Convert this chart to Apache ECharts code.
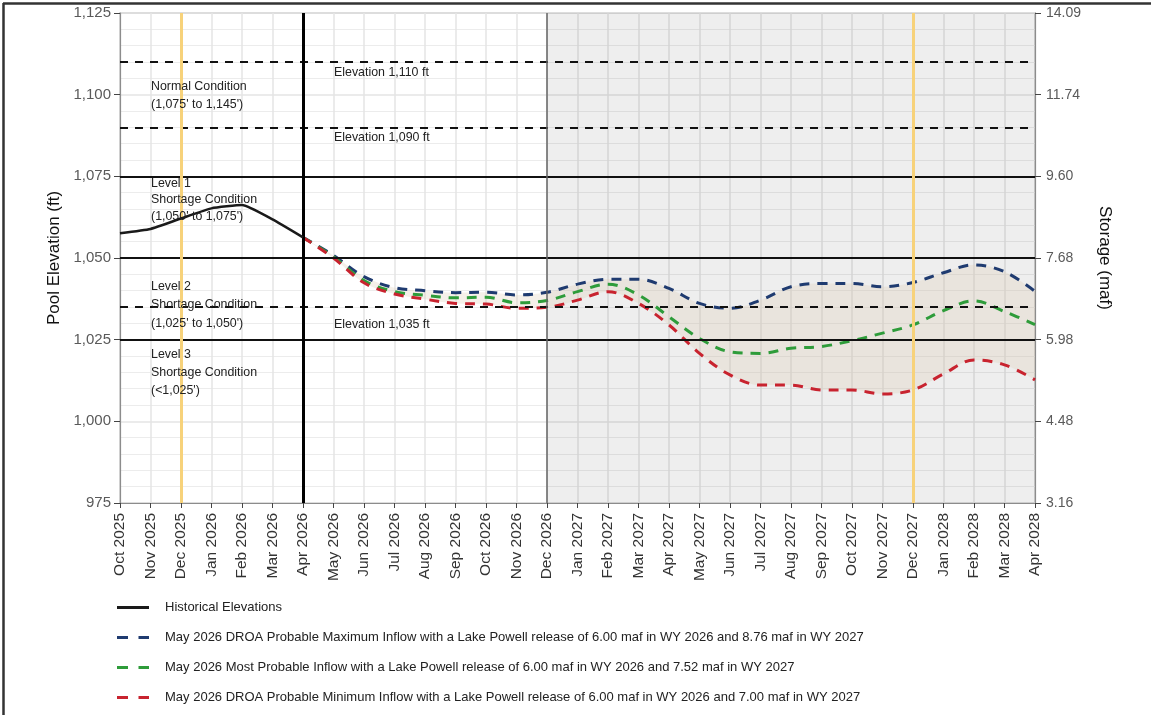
<!DOCTYPE html>
<html>
<head>
<meta charset="utf-8">
<title>Lake Mead Pool Elevation Projections</title>
<script src="https://cdn.jsdelivr.net/npm/echarts@6/dist/echarts.min.js"></script>
<style>
  html, body { margin: 0; padding: 0; background: #ffffff; }
  #chart { width: 1151px; height: 715px; }
</style>
</head>
<body>
<div id="chart"></div>
<script>
// Month categories along the x axis
const months = [
  'Oct 2025','Nov 2025','Dec 2025','Jan 2026','Feb 2026','Mar 2026','Apr 2026',
  'May 2026','Jun 2026','Jul 2026','Aug 2026','Sep 2026','Oct 2026','Nov 2026','Dec 2026',
  'Jan 2027','Feb 2027','Mar 2027','Apr 2027','May 2027','Jun 2027','Jul 2027','Aug 2027',
  'Sep 2027','Oct 2027','Nov 2027','Dec 2027','Jan 2028','Feb 2028','Mar 2028','Apr 2028'
];

// Observed end-of-month elevations (ft), Oct 2025 - Apr 2026
const historical = [1057.6, 1058.9, 1062.1, 1065.2, 1066.2, 1061.8, 1056.3];

// Projected elevations (ft), Apr 2026 - Apr 2028
const maxInflow = [1056.3, 1050.8, 1044.3, 1040.9, 1040.0, 1039.4, 1039.5, 1038.7, 1039.5,
  1042.0, 1043.5, 1043.5, 1040.7, 1036.1, 1034.6, 1037.1, 1041.2, 1042.2, 1042.2, 1041.2,
  1042.5, 1045.5, 1047.9, 1045.8, 1039.8];
const mostProbable = [1056.3, 1050.4, 1043.1, 1039.7, 1038.6, 1037.8, 1038.0, 1036.3, 1037.0,
  1039.7, 1042.0, 1038.7, 1032.0, 1025.4, 1021.3, 1020.8, 1022.4, 1022.9, 1024.7, 1027.0,
  1029.5, 1033.9, 1036.9, 1033.6, 1029.6];
const minInflow = [1056.3, 1050.0, 1042.4, 1039.0, 1037.4, 1036.1, 1035.9, 1034.6, 1034.9,
  1037.1, 1039.7, 1036.1, 1029.5, 1020.8, 1014.2, 1011.1, 1011.1, 1009.6, 1009.6, 1008.4,
  1009.6, 1014.5, 1018.8, 1017.3, 1012.7];

// Elevation ticks and matching storage labels for the right axis
const elevationTicks = [975, 1000, 1025, 1050, 1075, 1100, 1125];
const storageTicks = ['3.16', '4.48', '5.98', '7.68', '9.60', '11.74', '14.09'];

// Operating-condition reference levels (ft)
const solidLevels = [1075, 1050, 1025];
const dashedLevels = [1110, 1090, 1035];

const seriesNames = [
  'Historical Elevations',
  'May 2026 DROA Probable Maximum Inflow with a Lake Powell release of 6.00 maf in WY 2026 and 8.76 maf in WY 2027',
  'May 2026 Most Probable Inflow with a Lake Powell release of 6.00 maf in WY 2026 and 7.52 maf in WY 2027',
  'May 2026 DROA Probable Minimum Inflow with a Lake Powell release of 6.00 maf in WY 2026 and 7.00 maf in WY 2027'
];
const seriesColors = ['#1a1a1a', '#1f3b70', '#2e9c3a', '#c8232f'];

const FONT = '"Liberation Sans", Arial, Helvetica, sans-serif';
const startIdx = months.indexOf('Apr 2026');

function placeForecast(values) {
  const out = months.map(() => null);
  values.forEach((v, i) => { out[startIdx + i] = v; });
  return out;
}
function placeHistorical(values) {
  const out = months.map(() => null);
  values.forEach((v, i) => { out[i] = v; });
  return out;
}

const maxData = placeForecast(maxInflow);
const mostData = placeForecast(mostProbable);
const minData = placeForecast(minInflow);
const bandBase = minData;
const bandSpan = maxData.map((v, i) => (v == null ? null : +(v - minData[i]).toFixed(2)));

const SMOOTH = 0.35;
const dash = [10, 8];

const chart = echarts.init(document.getElementById('chart'), null, { renderer: 'canvas' });

const option = {
  animation: false,
  backgroundColor: '#ffffff',
  textStyle: { fontFamily: FONT },
  grid: {
    left: 120, right: 116, top: 13, bottom: 212,
    show: true, borderColor: '#8c8c8c', borderWidth: 1.2, backgroundColor: '#ffffff'
  },
  xAxis: {
    type: 'category',
    data: months,
    boundaryGap: false,
    axisLine: { lineStyle: { color: '#8c8c8c', width: 1.2 } },
    axisTick: { show: true, length: 5, lineStyle: { color: '#444' } },
    axisLabel: { rotate: 90, fontSize: 15.5, color: '#333', margin: 10, fontFamily: FONT, interval: 0 },
    splitLine: { show: true, lineStyle: { color: '#e4e4e4', width: 1.5 } }
  },
  yAxis: [
    {
      type: 'value', min: 975, max: 1125, interval: 25, position: 'left',
      name: 'Pool Elevation (ft)', nameLocation: 'middle', nameGap: 57, nameRotate: 90,
      nameTextStyle: { fontSize: 17, color: '#111', fontFamily: FONT },
      axisLine: { show: true, lineStyle: { color: '#8c8c8c', width: 1.2 } },
      axisTick: { show: true, length: 6, lineStyle: { color: '#444' } },
      axisLabel: {
        fontSize: 15, color: '#5a5a5a', margin: 9, fontFamily: FONT,
        formatter: v => v.toLocaleString('en-US')
      },
      splitLine: { show: true, lineStyle: { color: '#e4e4e4', width: 1.5 } },
      minorTick: { show: false, splitNumber: 5 },
      minorSplitLine: { show: true, lineStyle: { color: '#ececec', width: 1.2 } }
    },
    {
      type: 'value', min: 975, max: 1125, interval: 25, position: 'right',
      name: 'Storage (maf)', nameLocation: 'middle', nameGap: 61, nameRotate: -90,
      nameTextStyle: { fontSize: 17, color: '#111', fontFamily: FONT },
      axisLine: { show: true, lineStyle: { color: '#8c8c8c', width: 1.2 } },
      axisTick: { show: true, length: 6, lineStyle: { color: '#444' } },
      axisLabel: {
        fontSize: 14, color: '#5a5a5a', margin: 11, fontFamily: FONT,
        formatter: v => {
          const k = elevationTicks.indexOf(v);
          return k >= 0 ? storageTicks[k] : '';
        }
      },
      splitLine: { show: false }
    }
  ],
  series: [
    {
      // lower edge of the projection envelope; also carries the reference marks
      name: 'bandBase', type: 'line', data: bandBase, stack: 'band',
      smooth: SMOOTH, symbol: 'none', silent: true,
      lineStyle: { opacity: 0 }, z: 1,
      markArea: {
        silent: true,
        itemStyle: { color: 'rgba(0,0,0,0.065)' },
        data: [[{ xAxis: 'Dec 2026' }, { xAxis: 'Apr 2028' }]]
      },
      markLine: {
        silent: true, symbol: 'none', label: { show: false },
        data: [
          ...solidLevels.map(v => ({ yAxis: v, lineStyle: { color: '#111', width: 2, type: 'solid' } })),
          ...dashedLevels.map(v => ({ yAxis: v, lineStyle: { color: '#111', width: 2, type: [8, 7] } })),
          { xAxis: 'Dec 2025', lineStyle: { color: '#f7d27a', width: 3, type: 'solid' } },
          { xAxis: 'Dec 2027', lineStyle: { color: '#f7d27a', width: 3, type: 'solid' } },
          { xAxis: 'Dec 2026', lineStyle: { color: '#666', width: 1.5, type: 'solid' } },
          { xAxis: 'Apr 2026', lineStyle: { color: '#000', width: 3, type: 'solid' } }
        ]
      }
    },
    {
      // width of the projection envelope (max minus min)
      name: 'bandSpan', type: 'line', data: bandSpan, stack: 'band',
      smooth: SMOOTH, symbol: 'none', silent: true,
      lineStyle: { opacity: 0 }, z: 1,
      areaStyle: { color: 'rgba(222,208,186,0.45)' }
    },
    {
      name: seriesNames[0], type: 'line', data: placeHistorical(historical),
      smooth: 0.15, symbol: 'none', showSymbol: false, z: 5,
      lineStyle: { color: seriesColors[0], width: 2.5 }
    },
    {
      name: seriesNames[1], type: 'line', data: maxData,
      smooth: SMOOTH, symbol: 'none', showSymbol: false, z: 4,
      lineStyle: { color: seriesColors[1], width: 3, type: dash }
    },
    {
      name: seriesNames[2], type: 'line', data: mostData,
      smooth: SMOOTH, symbol: 'none', showSymbol: false, z: 4,
      lineStyle: { color: seriesColors[2], width: 3, type: dash }
    },
    {
      name: seriesNames[3], type: 'line', data: minData,
      smooth: SMOOTH, symbol: 'none', showSymbol: false, z: 4,
      lineStyle: { color: seriesColors[3], width: 3, type: dash }
    }
  ]
};

chart.setOption(option);

// Condition and elevation annotations: first-line centre placed at the given elevation
const annotations = [
  { at: ['Nov 2025', 1102.4], lh: 17.6, lines: ['Normal Condition', "(1,075' to 1,145')"] },
  { at: ['Nov 2025', 1072.9], lh: 16.7, lines: ['Level 1', 'Shortage Condition', "(1,050' to 1,075')"] },
  { at: ['Nov 2025', 1041.2], lh: 18.2, lines: ['Level 2', 'Shortage Condition', "(1,025' to 1,050')"] },
  { at: ['Nov 2025', 1020.3], lh: 17.8, lines: ['Level 3', 'Shortage Condition', "(<1,025')"] },
  { at: ['May 2026', 1106.7], lh: 16, lines: ['Elevation 1,110 ft'] },
  { at: ['May 2026', 1086.8], lh: 16, lines: ['Elevation 1,090 ft'] },
  { at: ['May 2026', 1029.7], lh: 16, lines: ['Elevation 1,035 ft'] }
];

const graphics = annotations.map(a => {
  const p = chart.convertToPixel({ xAxisIndex: 0, yAxisIndex: 0 }, a.at);
  return {
    type: 'text', x: p[0] + 0.5, y: p[1] - a.lh / 2, z: 10, silent: true,
    style: {
      text: a.lines.join('\n'), fill: '#222', font: '12.4px ' + FONT,
      lineHeight: a.lh, verticalAlign: 'top'
    }
  };
});

// Legend below the axis: sample line plus series description
const legendTop = 607.5, legendStep = 30, legendX = 117, legendLen = 32;
seriesNames.forEach((name, i) => {
  const y = legendTop + i * legendStep;
  graphics.push({
    type: 'line', silent: true,
    shape: { x1: legendX, y1: y, x2: legendX + legendLen, y2: y },
    style: {
      stroke: seriesColors[i], lineWidth: 3,
      lineDash: i === 0 ? null : [11, 10.5]
    }
  });
  graphics.push({
    type: 'text', silent: true, x: legendX + legendLen + 16, y: y,
    style: { text: name, fill: '#222', font: '13px ' + FONT, verticalAlign: 'middle' }
  });
});

// Outer frame along the top and left edges
graphics.push(
  { type: 'line', shape: { x1: 3, y1: 3.5, x2: 1151, y2: 3.5 }, style: { stroke: '#333', lineWidth: 2.5 }, silent: true },
  { type: 'line', shape: { x1: 3.5, y1: 3, x2: 3.5, y2: 715 }, style: { stroke: '#333', lineWidth: 2.5 }, silent: true }
);

chart.setOption({ graphic: graphics });
</script>
</body>
</html>
